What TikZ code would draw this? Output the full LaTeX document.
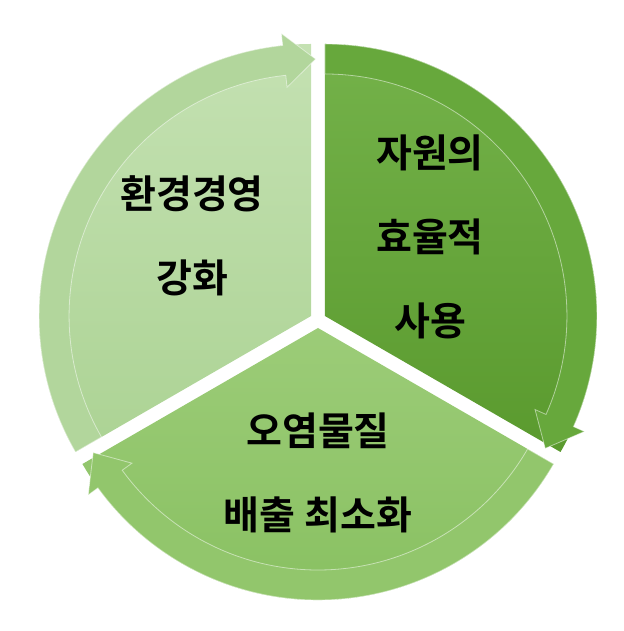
\documentclass[tikz,border=0pt]{standalone}
\usepackage{fontspec}
\newfontfamily\kr{Noto Sans CJK KR}[BoldFont={Noto Sans CJK KR Bold}]
\definecolor{rA}{HTML}{74B24A}\definecolor{rB}{HTML}{5A9A2E}\definecolor{rC}{HTML}{67A83C}
\definecolor{bA}{HTML}{9CCC78}\definecolor{bB}{HTML}{86BF5E}\definecolor{bC}{HTML}{92C66C}
\definecolor{lA}{HTML}{C4E1B2}\definecolor{lB}{HTML}{ACD394}\definecolor{lC}{HTML}{B2D69C}
\begin{document}
\begin{tikzpicture}[x=1pt,y=1pt,
  lbl/.style={font=\kr\bfseries\fontsize{39}{44}\selectfont, align=center, text=black}]
\useasboundingbox (0,0) rectangle (623,631);
\def\R{272}\def\W{30}
\newcommand\mysector[7]{% offset angle, a, b, bodycolor1, bodycolor2, ringcolor, name
  \begin{scope}[shift={(#1:8)}, shift={(318,311)}]
    \pgfmathsetmacro\bb{#3+6}\pgfmathsetmacro\tt{#3-1}
    \pgfmathsetmacro\ro{\R+12}\pgfmathsetmacro\ri{\R-\W-12}
    \pgfmathsetmacro\rm{\R-\W/2}\pgfmathsetmacro\rin{\R-\W}
    \path[top color=#4,bottom color=#5] (0,0) -- (#2:\R) arc[start angle=#2,end angle=#3,radius=\R] -- cycle;
    \path[fill=#6, draw=white, draw opacity=0.5, line width=0.8pt]
      (#2:\R) arc[start angle=#2,end angle=\bb,radius=\R]
      -- (\bb:\ro) -- (\tt:\rm) -- (\bb:\ri) -- (\bb:\rin)
      arc[start angle=\bb,end angle=#2,radius=\rin] -- cycle;
    \coordinate (#7) at (0,0);
  \end{scope}}
\mysector{30}{90}{-30}{rA}{rB}{rC}{cR}
\mysector{-90}{-30}{-150}{bA}{bB}{bC}{cB}
\mysector{150}{210}{90}{lA}{lB}{lC}{cL}
\node[lbl] (t1) at (430,394) {자원의\\[40pt]효율적\\[40pt]사용};
\node[lbl] (t2) at (192,395) {환경경영\\[40pt]강화};
\node[lbl] (t3) at (318,158) {오염물질\\[40pt]배출 최소화};
\end{tikzpicture}
\end{document}
